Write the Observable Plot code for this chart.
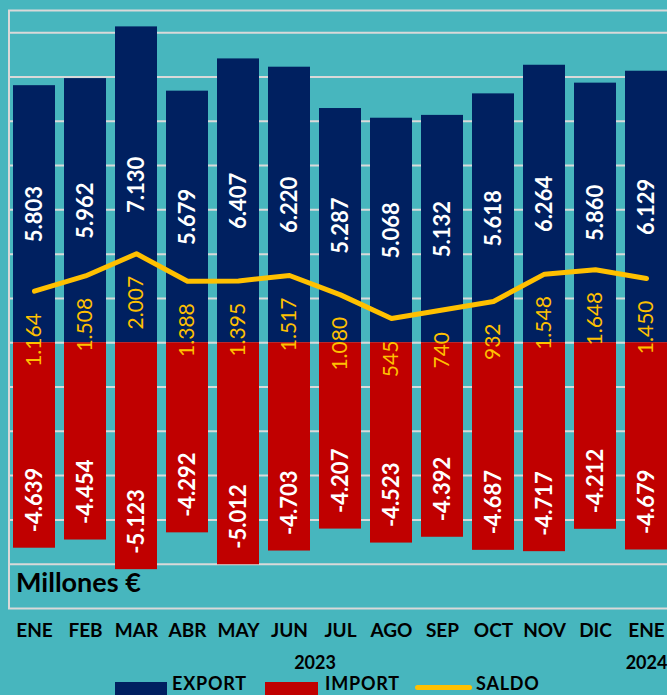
<!DOCTYPE html>
<html>
<head>
<meta charset="utf-8">
<script src="https://cdn.jsdelivr.net/npm/d3@7"></script>
<script src="https://cdn.jsdelivr.net/npm/@observablehq/plot@0.6"></script>
<style>
  html, body { margin: 0; padding: 0; background: #47B6BE; overflow: hidden; }
  #wrap { position: relative; width: 667px; height: 695px; overflow: hidden; font-family: Lato, "DejaVu Sans", sans-serif; }
  #chart { position: absolute; left: 0; top: 0; width: 672px; }
  #chart svg { max-width: none !important; width: 672px !important; height: 672px !important; }
  .lg { position: absolute; }
  .lgt { position: absolute; font-weight: bold; font-size: 18px; line-height: 16px; letter-spacing: 0.8px; color: #000; white-space: nowrap; }
</style>
</head>
<body>
<div id="wrap">
  <div id="chart"></div>
  <div class="lg" style="left:115px; top:682px; width:52px; height:13px; background:#002060;"></div>
  <div class="lgt" style="left:172px; top:675px;">EXPORT</div>
  <div class="lg" style="left:265px; top:682px; width:53px; height:13px; background:#C00000;"></div>
  <div class="lgt" style="left:325px; top:675px;">IMPORT</div>
  <div class="lg" style="left:415px; top:685px; width:57px; height:5px; border-radius:3px; background:#FFC000;"></div>
  <div class="lgt" style="left:476px; top:675px;">SALDO</div>
</div>
<script>
const months = ["ENE","FEB","MAR","ABR","MAY","JUN","JUL","AGO","SEP","OCT","NOV","DIC","ENE"];
const exportVals = [5803,5962,7130,5679,6407,6220,5287,5068,5132,5618,6264,5860,6129];
const importVals = [-4639,-4454,-5123,-4292,-5012,-4703,-4207,-4523,-4392,-4687,-4717,-4212,-4679];
const saldoVals = [1164,1508,2007,1388,1395,1517,1080,545,740,932,1548,1648,1450];
const yearLabels = ["2023","2024"];
const gridTicks = d3.range(-5000, 8000, 1000);

const idx = months.map((m, i) => i);
const rows = idx.map(i => ({i, exp: exportVals[i], imp: importVals[i], sal: saldoVals[i]}));

const loc = d3.formatLocale({decimal: ",", thousands: ".", grouping: [3], currency: ["", " €"], minus: "-"});
const fmt = loc.format(",");

const chart = Plot.plot({
  width: 672,
  height: 672,
  marginTop: 10,
  marginBottom: 64,
  marginLeft: 8.5,
  marginRight: 0.5,
  style: {background: "transparent", fontFamily: "Lato, 'DejaVu Sans', sans-serif", color: "#000", overflow: "visible"},
  x: {type: "band", domain: idx, paddingInner: 9/51, paddingOuter: 4.5/51},
  y: {domain: [-6000, 7500]},
  marks: [
    Plot.gridY(gridTicks, {stroke: "#D9D9D9", strokeOpacity: 1, strokeWidth: 2}),
    Plot.frame({stroke: "#D9D9D9", strokeWidth: 2}),
    Plot.barY(rows, {x: "i", y: "exp", fill: "#002060"}),
    Plot.barY(rows, {x: "i", y: "imp", fill: "#C00000"}),
    Plot.line(rows, {x: "i", y: "sal", stroke: "#FFC000", strokeWidth: 5, strokeLinecap: "round", strokeLinejoin: "round"}),
    Plot.text(rows, {x: "i", y: d => d.exp / 2, text: d => fmt(d.exp), rotate: -90, fill: "white", fontWeight: "bold", fontSize: 22}),
    Plot.text(rows, {x: "i", y: "imp", text: d => fmt(d.imp), rotate: -90, textAnchor: "start", dy: -16, fill: "white", fontWeight: "bold", fontSize: 22}),
    Plot.text(rows, {x: "i", y: "sal", text: d => fmt(d.sal), rotate: -90, textAnchor: "end", dy: 22, fill: "#FFC000", fontSize: 21}),
    Plot.axisX({tickSize: 0, tickPadding: 15, fontSize: 19, fontWeight: "bold", tickFormat: i => months[i], label: null}),
    Plot.axisY({ticks: [], label: null}),
    Plot.text([yearLabels[0]], {x: () => 5, frameAnchor: "bottom", dx: 25.5, dy: 60, fontWeight: "bold", fontSize: 18}),
    Plot.text([yearLabels[1]], {x: () => 12, frameAnchor: "bottom", dy: 60, fontWeight: "bold", fontSize: 18}),
    Plot.text(["Millones €"], {frameAnchor: "bottom-left", dx: 7, dy: -17, textAnchor: "start", fontWeight: "bold", fontSize: 27})
  ]
});
document.getElementById("chart").appendChild(chart);
</script>
</body>
</html>
